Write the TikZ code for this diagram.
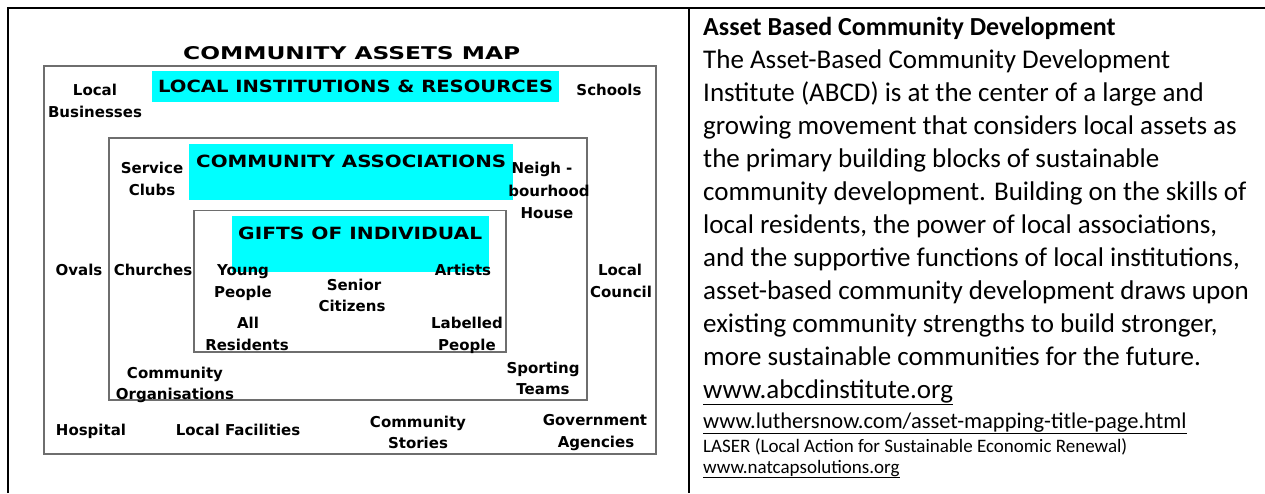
\documentclass[tikz,border=0pt]{standalone}
\usepackage{fontspec}
\setmainfont{Carlito}
\newfontfamily\mapfont{DejaVu Sans}
\definecolor{hl}{HTML}{00FFFF}
\definecolor{framegray}{HTML}{6E6E6E}
\newcommand{\capsbox}[2]{\resizebox{#1}{12.5pt}{#2}}
\begin{document}
\begin{tikzpicture}[x=1pt,y=-1pt,
  lbl/.style={font=\mapfont\bfseries\fontsize{15}{18}\selectfont, inner sep=0pt, anchor=base},
  capsnode/.style={inner sep=0pt, anchor=base west, font=\mapfont\bfseries},
  mapbox/.style={draw=framegray, line width=1.3pt},
  hlbox/.style={fill=hl, draw=none},
  tablerule/.style={line width=2pt, black},
  body/.style={font=\fontsize{27}{33}\selectfont, inner sep=0pt, anchor=base west},
  small/.style={font=\fontsize{19}{22}\selectfont, inner sep=0pt, anchor=base west}]
\useasboundingbox (0,0) rectangle (1265,493);
% table
\draw[tablerule] (7.5,493) -- (7.5,7.5) -- (1265,7.5);
\draw[tablerule] (689,7.5) -- (689,493);
% highlight boxes
\fill[hl] (152,71) rectangle (559,102);
\fill[hl] (189,143.5) rectangle (513,200);
\fill[hl] (232,215.5) rectangle (489,272);
% frames
\draw[mapbox] (44,66) rectangle (656,454);
\draw[mapbox] (109,138) rectangle (587,400);
\draw[mapbox] (194,210.5) rectangle (506,352);
% headings
\node[capsnode] (title) at (183,59) {\resizebox{337pt}{13pt}{COMMUNITY ASSETS MAP}};
\node[capsnode] (inst) at (158,92) {\capsbox{395pt}{LOCAL INSTITUTIONS \& RESOURCES}};
\node[capsnode] (assoc) at (196,167) {\capsbox{310pt}{COMMUNITY ASSOCIATIONS}};
\node[capsnode] (gifts) at (238,239) {\capsbox{244pt}{GIFTS OF INDIVIDUAL}};
% outer labels
\node[lbl] (lb1) at (95,95) {Local};
\node[lbl] (lb2) at (95,117) {Businesses};
\node[lbl] (schools) at (609,95) {Schools};
\node[lbl] (ovals) at (79,275) {Ovals};
\node[lbl] (lc1) at (620,275) {Local};
\node[lbl] (lc2) at (621,297) {Council};
\node[lbl] (hosp) at (91,435) {Hospital};
\node[lbl] (facil) at (238,435) {Local Facilities};
\node[lbl] (cs1) at (418,427) {Community};
\node[lbl] (cs2) at (418,448) {Stories};
\node[lbl] (ga1) at (595,425) {Government};
\node[lbl] (ga2) at (596,447) {Agencies};
% middle labels
\node[lbl] (sc1) at (152,173) {Service};
\node[lbl] (sc2) at (152,195) {Clubs};
\node[lbl] (nh1) at (542,173) {Neigh -};
\node[lbl] (nh2) at (549,196) {bourhood};
\node[lbl] (nh3) at (547,218) {House};
\node[lbl] (church) at (153,275) {Churches};
\node[lbl] (co1) at (175,378) {Community};
\node[lbl] (co2) at (175,399) {Organisations};
\node[lbl] (st1) at (543,373) {Sporting};
\node[lbl] (st2) at (543,394) {Teams};
% inner labels
\node[lbl] (yp1) at (243,275) {Young};
\node[lbl] (yp2) at (243,297) {People};
\node[lbl] (sn1) at (354,290) {Senior};
\node[lbl] (sn2) at (352,311) {Citizens};
\node[lbl] (art) at (463,275) {Artists};
\node[lbl] (ar1) at (248,328) {All};
\node[lbl] (ar2) at (247,350) {Residents};
\node[lbl] (lp1) at (467,328) {Labelled};
\node[lbl] (lp2) at (467,350) {People};
% right column
\node[body, font=\bfseries\fontsize{26}{33}\selectfont] (rtitle) at (703,35) {Asset Based Community Development};
\node[body] (t1) at (703,68) {The Asset-Based Community Development};
\node[body] (t2) at (703,101) {Institute (ABCD) is at the center of a large and};
\node[body] (t3) at (703,134) {growing movement that considers local assets as};
\node[body] (t4) at (703,167) {the primary building blocks of sustainable};
\node[body] (t5) at (703,200) {community development. Building on the skills of};
\node[body] (t6) at (703,233) {local residents, the power of local associations,};
\node[body] (t7) at (703,266) {and the supportive functions of local institutions,};
\node[body] (t8) at (703,299) {asset-based community development draws upon};
\node[body] (t9) at (703,332) {existing community strengths to build stronger,};
\node[body] (t10) at (703,365) {more sustainable communities for the future.};
\node[body] (l1) at (703,398) {\underline{www.abcdinstitute.org}};
\node[small, font=\fontsize{22.5}{26}\selectfont] (l2) at (703,428) {\underline{www.luthersnow.com/asset-mapping-title-page.html}};
\node[small] (l3) at (703,452) {LASER (Local Action for Sustainable Economic Renewal)};
\node[small] (l4) at (703,473) {\underline{www.natcapsolutions.org}};
\end{tikzpicture}
\end{document}
